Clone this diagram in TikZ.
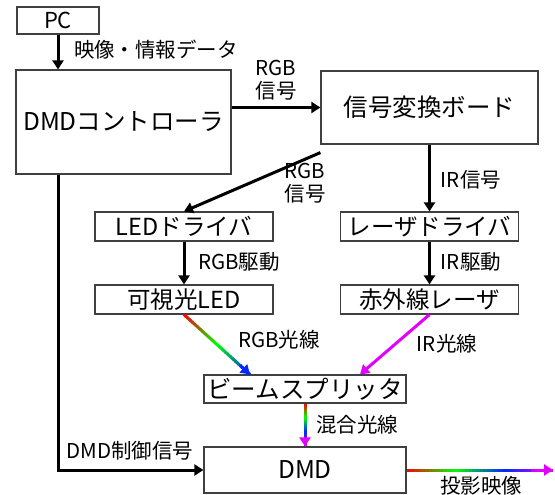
\documentclass[tikz,border=0pt]{standalone}
\usepackage{fontspec}
\setmainfont{Noto Sans CJK JP}
\usetikzlibrary{arrows.meta,calc}
\definecolor{mag}{RGB}{225,0,255}
\definecolor{gr}{RGB}{0,255,0}
\definecolor{rd}{RGB}{255,0,0}
\definecolor{bl}{RGB}{0,40,255}
\newcommand\gradarrow[3]{%
  \foreach \i in {0,...,39}{%
    \pgfmathsetmacro\gA{\i/40}%
    \pgfmathsetmacro\gB{min((\i+1.4)/40,1)}%
    \pgfmathsetmacro\gf{(\i+0.5)/40*(#3-1)}%
    \pgfmathtruncatemacro\gk{min(floor(\gf),#3-2)}%
    \pgfmathsetmacro\gp{100*(\gf-\gk)}%
    \ifcase\gk \colorlet{segc}{gr!\gp!rd}\or \colorlet{segc}{bl!\gp!gr}\or \colorlet{segc}{mag!\gp!bl}\fi
    \draw[segc, line width=3pt] ($(#1)!\gA!(#2)$) -- ($(#1)!\gB!(#2)$);
  }%
  \ifnum#3=3 \colorlet{segc}{bl}\else\colorlet{segc}{mag}\fi
  \draw[segc, arr] ($(#1)!0.85!(#2)$) -- (#2);
}
\begin{document}
\begin{tikzpicture}[x=1pt,y=-1pt,
  box/.style={draw=black!75, line width=1.2pt, inner sep=0pt, font=\fontsize{24.5}{27}\selectfont},
  sbox/.style={box, minimum width=178pt, minimum height=29pt, font=\fontsize{23.5}{26}\selectfont},
  lbl/.style={font=\fontsize{20.5}{23}\selectfont, inner sep=0pt, align=center},
  arr/.style={line width=3pt, -{Triangle[width=11pt,length=9pt]}},
]
\useasboundingbox (0,0) rectangle (555,495);
\node[box, minimum width=82pt, minimum height=27pt, font=\fontsize{22}{24}\selectfont] (pc) at (58,20.5) {PC};
\node[box, minimum width=215pt, minimum height=104pt] (ctrl) at (123.5,122) {DMDコントローラ};
\node[box, minimum width=217pt, minimum height=73pt] (board) at (429.5,107.5) {信号変換ボード};
\node[sbox] (leddrv) at (184,226.5) {LEDドライバ};
\node[sbox] (lasdrv) at (429.5,226.5) {レーザドライバ};
\node[sbox] (led) at (184,299.5) {可視光LED};
\node[sbox] (laser) at (429.5,299.5) {赤外線レーザ};
\node[box, minimum width=202pt, minimum height=28pt] (bs) at (305,389) {ビームスプリッタ};
\node[box, minimum width=202pt, minimum height=46pt] (dmd) at (305,470) {DMD};

\coordinate (bsL) at ($(bs.north)+(-55,0)$);
\coordinate (bsR) at ($(bs.north)+(55,0)$);
\coordinate (bstart) at ($(board.south west)+(0,8)$);
\coordinate (out) at (553,470);

\draw[arr] (pc) -- (pc |- ctrl.north);
\draw[arr] (ctrl.east |- board) -- (board.west);
\draw[arr] (bstart) -- (leddrv.north);
\draw[arr] (board.south) -- (lasdrv.north);
\draw[arr] (leddrv.south) -- (led.north);
\draw[arr] (lasdrv.south) -- (laser.north);
\draw[arr] (pc |- ctrl.south) |- (dmd.west);
\gradarrow{led.south}{bsL}{3}
\draw[mag, arr] (laser.south) -- (bsR);
\gradarrow{bs.south}{dmd.north}{4}
\gradarrow{dmd.east}{out}{4}

\node[lbl] at (156,50) {映像・情報データ};
\node[lbl] at (276,80) {RGB\\信号};
\node[lbl] at (305,183) {RGB\\信号};
\node[lbl] at (471,180) {IR信号};
\node[lbl] at (239,262) {RGB駆動};
\node[lbl] at (471,262) {IR駆動};
\node[lbl] at (279,340) {RGB光線};
\node[lbl] at (447,344) {IR光線};
\node[lbl] at (357,425) {混合光線};
\node[lbl] at (130,451) {DMD制御信号};
\node[lbl] at (481,486) {投影映像};
\end{tikzpicture}
\end{document}
